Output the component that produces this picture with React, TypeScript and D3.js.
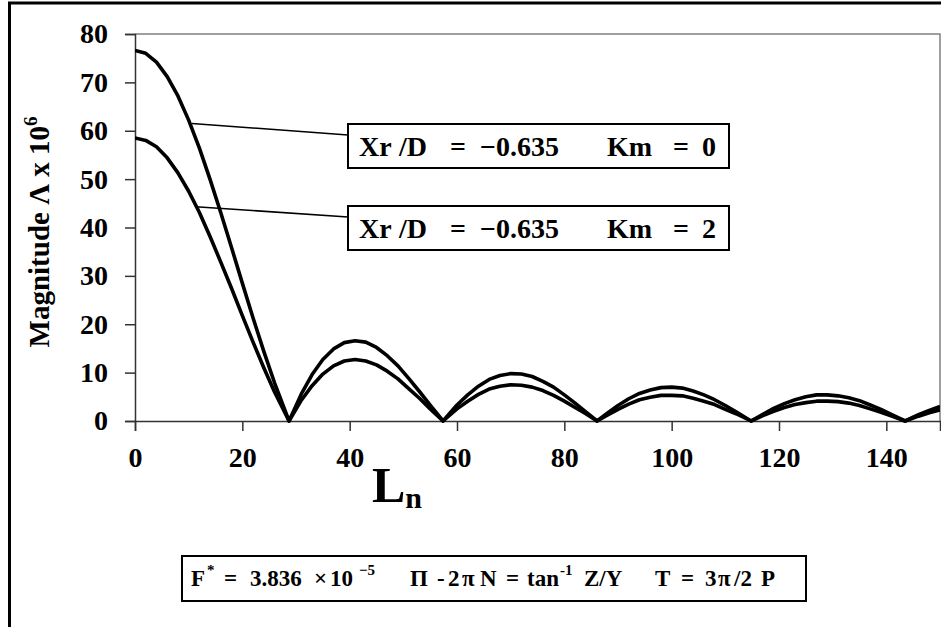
import { useRef, useEffect } from "react";
import { select, scaleLinear, line, axisLeft, axisBottom } from "d3";

// L_n sample points (zeros included where the curves touch the axis)
const lnValues = [
  0, 2, 4, 6, 8, 10, 12, 14, 16, 18, 20, 22, 24, 26, 28.7, 31, 33, 35, 37, 39,
  41, 43, 45, 47, 49, 51, 53, 55, 57.4, 60, 62, 64, 66, 68, 70, 72, 74, 76, 78,
  80, 82, 84, 86.1, 88, 90, 92, 94, 96, 98, 100, 102, 104, 106, 108, 110, 112,
  114.8, 117, 119, 121, 123, 125, 127, 129, 131, 133, 135, 137, 139, 141,
  143.5, 146, 148, 150,
];

// Km = 0
const magKm0 = [
  76.6, 76.0, 74.2, 71.2, 67.2, 62.2, 56.4, 49.9, 43.0, 35.8, 28.5, 21.3, 14.4,
  7.9, 0, 5.6, 9.6, 12.7, 14.9, 16.2, 16.6, 16.3, 15.2, 13.5, 11.4, 8.8, 6.1,
  3.3, 0, 3.3, 5.4, 7.2, 8.6, 9.4, 9.8, 9.7, 9.2, 8.2, 7.0, 5.4, 3.7, 1.9, 0,
  1.6, 3.2, 4.6, 5.7, 6.4, 6.9, 7.0, 6.8, 6.2, 5.4, 4.4, 3.2, 1.9, 0, 1.4, 2.6,
  3.6, 4.4, 5.0, 5.4, 5.4, 5.2, 4.8, 4.2, 3.3, 2.4, 1.3, 0, 1.3, 2.2, 3.0,
];

// Km = 2
const magKm2 = [
  58.5, 58.0, 56.7, 54.4, 51.3, 47.5, 43.1, 38.1, 32.8, 27.4, 21.8, 16.3, 11.0,
  6.0, 0, 4.3, 7.3, 9.7, 11.4, 12.4, 12.7, 12.4, 11.6, 10.3, 8.7, 6.7, 4.7, 2.5,
  0, 2.5, 4.1, 5.5, 6.6, 7.2, 7.5, 7.4, 7.0, 6.3, 5.3, 4.1, 2.8, 1.5, 0, 1.2,
  2.4, 3.5, 4.4, 4.9, 5.3, 5.3, 5.2, 4.7, 4.1, 3.4, 2.4, 1.5, 0, 1.1, 2.0, 2.8,
  3.4, 3.8, 4.1, 4.1, 4.0, 3.7, 3.2, 2.5, 1.8, 1.0, 0, 1.0, 1.7, 2.3,
];

const xTicks = [0, 20, 40, 60, 80, 100, 120, 140];
const yTicks = [0, 10, 20, 30, 40, 50, 60, 70, 80];

const width = 941;
const height = 627;
const left = 135;
const right = 940;
const top = 34;
const bottom = 421;
const font = "'Liberation Serif', 'Times New Roman', serif";

function App() {
  const svgRef = useRef<SVGSVGElement>(null);

  useEffect(() => {
    const svg = select(svgRef.current);
    svg.selectAll("*").remove();

    const x = scaleLinear().domain([0, 150]).range([left, right]);
    const y = scaleLinear().domain([0, 80]).range([bottom, top]);

    // outer frame
    svg
      .append("rect")
      .attr("x", 9.5)
      .attr("y", 3)
      .attr("width", width + 20)
      .attr("height", height + 20)
      .attr("fill", "white")
      .attr("stroke", "black")
      .attr("stroke-width", 3);

    // plot border (gray top and right)
    svg
      .append("path")
      .attr("d", `M${left},${top}H${right}V${bottom}`)
      .attr("fill", "none")
      .attr("stroke", "#808080")
      .attr("stroke-width", 1.5);

    const yAxis = svg
      .append("g")
      .attr("transform", `translate(${left},0)`)
      .call(axisLeft(y).tickValues(yTicks).tickSize(10).tickPadding(17));
    yAxis.select(".domain").attr("stroke", "#333").attr("stroke-width", 1.5);
    yAxis.selectAll(".tick line").attr("stroke", "#333").attr("stroke-width", 1.5);
    yAxis
      .selectAll(".tick text")
      .attr("font-family", font)
      .attr("font-weight", "bold")
      .attr("font-size", 28)
      .attr("fill", "black");

    const xAxis = svg
      .append("g")
      .attr("transform", `translate(0,${bottom})`)
      .call(axisBottom(x).tickValues(xTicks).tickSize(10).tickPadding(16));
    xAxis.select(".domain").attr("stroke", "#333").attr("stroke-width", 1.5);
    xAxis.selectAll(".tick line").attr("stroke", "#333").attr("stroke-width", 1.5);
    xAxis
      .selectAll(".tick text")
      .attr("font-family", font)
      .attr("font-weight", "bold")
      .attr("font-size", 28)
      .attr("fill", "black");

    svg
      .append("clipPath")
      .attr("id", "plotClip")
      .append("rect")
      .attr("x", left)
      .attr("y", top - 5)
      .attr("width", right - left)
      .attr("height", bottom - top + 10);

    const path = line<number>()
      .x((_, i) => x(lnValues[i]))
      .y((d) => y(d));

    [magKm0, magKm2].forEach((series) => {
      svg
        .append("path")
        .attr("clip-path", "url(#plotClip)")
        .attr("d", path(series))
        .attr("fill", "none")
        .attr("stroke", "black")
        .attr("stroke-width", 3.6)
        .attr("stroke-linejoin", "round");
    });

    // annotation boxes with leader lines
    const boxes = [
      { top: 124, km: "0", from: [10.6, 61.5] },
      { top: 206, km: "2", from: [11.3, 44.3] },
    ];
    boxes.forEach((b) => {
      svg
        .append("line")
        .attr("x1", x(b.from[0]))
        .attr("y1", y(b.from[1]))
        .attr("x2", 348)
        .attr("y2", b.top + 11)
        .attr("stroke", "black")
        .attr("stroke-width", 1.6);
      svg
        .append("rect")
        .attr("x", 348)
        .attr("y", b.top)
        .attr("width", 381)
        .attr("height", 44)
        .attr("fill", "white")
        .attr("stroke", "black")
        .attr("stroke-width", 2);
      const t = svg
        .append("text")
        .attr("y", b.top + 32)
        .attr("font-family", font)
        .attr("font-weight", "bold")
        .attr("font-size", 28)
        .attr("fill", "black");
      t.append("tspan").attr("x", 359).text("Xr");
      t.append("tspan").attr("x", 399).text("/D");
      t.append("tspan").attr("x", 450).text("=");
      t.append("tspan").attr("x", 480).text("\u22120.635");
      t.append("tspan").attr("x", 607).text("Km");
      t.append("tspan").attr("x", 673).text("=");
      t.append("tspan").attr("x", 702).text(b.km);
    });

    // y axis title
    const yt = svg
      .append("text")
      .attr("transform", "translate(49,232) rotate(-90)")
      .attr("text-anchor", "middle")
      .attr("font-family", font)
      .attr("font-weight", "bold")
      .attr("font-size", 29)
      .attr("fill", "black");
    yt.append("tspan").text("Magnitude \u039B x 10");
    yt.append("tspan").attr("font-size", 19).attr("dy", -12).text("6");

    // x axis title
    const xt = svg
      .append("text")
      .attr("x", 372)
      .attr("y", 502)
      .attr("font-family", font)
      .attr("font-weight", "bold")
      .attr("font-size", 50)
      .attr("fill", "black");
    xt.append("tspan").text("L");
    xt.append("tspan").attr("font-size", 30).attr("dy", 6).text("n");

    // bottom formula box
    svg
      .append("rect")
      .attr("x", 182)
      .attr("y", 556)
      .attr("width", 624)
      .attr("height", 45)
      .attr("fill", "white")
      .attr("stroke", "black")
      .attr("stroke-width", 2);
    const fy = 586;
    const parts: [number, string, boolean][] = [
      [191, "F", false],
      [207, "*", true],
      [224, "=", false],
      [250, "3.836", false],
      [314, "\u00D7", false],
      [330, "10", false],
      [359, "\u22125", true],
      [410, "\u03A0", false],
      [437, "-", false],
      [448, "2", false],
      [462, "\u03C0", false],
      [480, "N", false],
      [506, "=", false],
      [527, "tan", false],
      [560, "-1", true],
      [584, "Z/Y", false],
      [655, "T", false],
      [681, "=", false],
      [705, "3", false],
      [718, "\u03C0", false],
      [734, "/2", false],
      [761, "P", false],
    ];
    parts.forEach(([px, s, sup]) => {
      svg
        .append("text")
        .attr("x", px)
        .attr("y", sup ? fy - 11 : fy)
        .attr("font-family", font)
        .attr("font-weight", "bold")
        .attr("font-size", sup ? 15 : 23)
        .attr("fill", "black")
        .text(s);
    });
  }, []);

  return (
    <svg
      ref={svgRef}
      width={width}
      height={height}
      style={{ position: "absolute", left: 0, top: 0, background: "white" }}
    />
  );
}

export default App;
